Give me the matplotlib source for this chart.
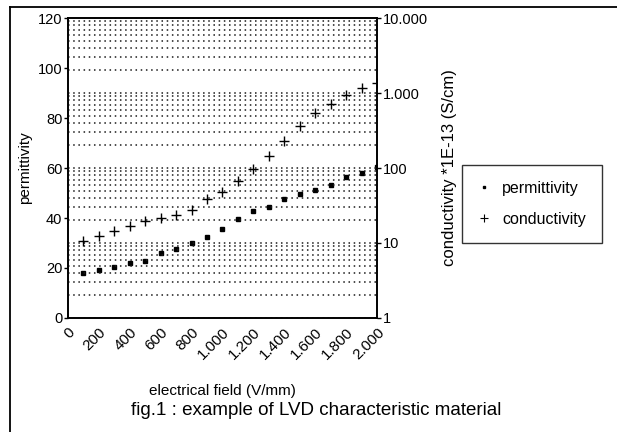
import matplotlib
matplotlib.use("Agg")
import matplotlib.pyplot as plt
from matplotlib.lines import Line2D
from matplotlib.ticker import LogLocator, FixedLocator, NullFormatter

plt.rcParams['font.family'] = ['Liberation Sans', 'DejaVu Sans']

# data
field = [100, 200, 300, 400, 500, 600, 700, 800, 900, 1000,
         1100, 1200, 1300, 1400, 1500, 1600, 1700, 1800, 1900, 2000]
permittivity = [18, 19, 20.2, 21.8, 22.8, 25.8, 27.7, 29.8, 32.6, 35.5,
                39.8, 42.7, 44.5, 47.6, 49.7, 51.1, 53.2, 56.3, 58.2, 60.5]
conductivity = [10.7, 12.4, 14.5, 17, 19.8, 21.7, 23.6, 27.5, 38.6, 48.6,
                67, 96, 144, 231, 363, 546, 707, 940, 1166, 1372]

x_ticks = [0, 200, 400, 600, 800, 1000, 1200, 1400, 1600, 1800, 2000]
x_labels = ['0', '200', '400', '600', '800', '1.000', '1.200', '1.400',
            '1.600', '1.800', '2.000']
left_ticks = [0, 20, 40, 60, 80, 100, 120]
right_ticks = [1, 10, 100, 1000, 10000]
right_labels = ['1', '10', '100', '1.000', '10.000']


fig = plt.figure(figsize=(6.17, 4.32), dpi=100)
ax = fig.add_axes([0.1102, 0.2639, 0.5008, 0.6944])
ax2 = ax.twinx()

# log scale on the right, dotted grid on its decades
ax2.set_yscale('log')
ax2.set_ylim(1, 10000)
ax2.yaxis.set_major_locator(FixedLocator(right_ticks))
ax2.set_yticklabels(right_labels)
ax2.yaxis.set_minor_locator(LogLocator(base=10, subs=range(2, 10)))
ax2.yaxis.set_minor_formatter(NullFormatter())
ax2.grid(True, which='both', axis='y', color='#1a1a1a', lw=1.1,
         linestyle=(0, (1, 2.4)))
ax2.tick_params(axis='y', which='minor', length=0)
ax2.tick_params(axis='y', which='major', length=3, width=1, labelsize=10.5, pad=1)

ax.set_xlim(0, 2000)
ax.set_ylim(0, 120)
ax.set_yticks(left_ticks)
ax.tick_params(axis='y', length=3, width=1, labelsize=10.5, pad=1)
ax.set_xticks(x_ticks)
ax.set_xticklabels(x_labels, rotation=45, ha='right', rotation_mode='anchor')
ax.tick_params(axis='x', length=0, labelsize=11, pad=5)

ax.plot(field, permittivity, ls='none', marker='s', ms=2.6, color='k',
        zorder=5)
ax2.plot(field, conductivity, ls='none', marker='+', ms=7.5, mew=1.0,
         color='k', zorder=5)

for a in (ax, ax2):
    for s in a.spines.values():
        s.set_linewidth(1.2)

ax.set_ylabel('permittivity', fontsize=11, labelpad=4)
ax2.set_ylabel('conductivity *1E-13 (S/cm)', fontsize=12, labelpad=10)
ax.set_xlabel('electrical field (V/mm)', fontsize=11, labelpad=16)

fig.text(0.512, 0.05, 'fig.1 : example of LVD characteristic material',
         ha='center', va='center', fontsize=13.5)

handles = [Line2D([], [], ls='none', marker='s', ms=1.8, color='k'),
           Line2D([], [], ls='none', marker='+', ms=6, mew=0.8, color='k')]
leg = fig.legend(handles, ['permittivity', 'conductivity'],
                 loc='upper left', bbox_to_anchor=(0.749, 0.618),
                 fontsize=11.5, frameon=True, fancybox=False,
                 handlelength=0.8, handletextpad=0.7, labelspacing=1.0,
                 borderpad=1.0, borderaxespad=0)
leg.get_frame().set_edgecolor('k')
leg.get_frame().set_linewidth(1.0)

# scanned page frame
fig.add_artist(Line2D([0.0162, 0.0162], [0.0, 0.984], color='k', lw=1.3))
fig.add_artist(Line2D([0.0162, 1.0], [0.984, 0.984], color='k', lw=1.3))

fig.savefig('out.png', dpi=100)
